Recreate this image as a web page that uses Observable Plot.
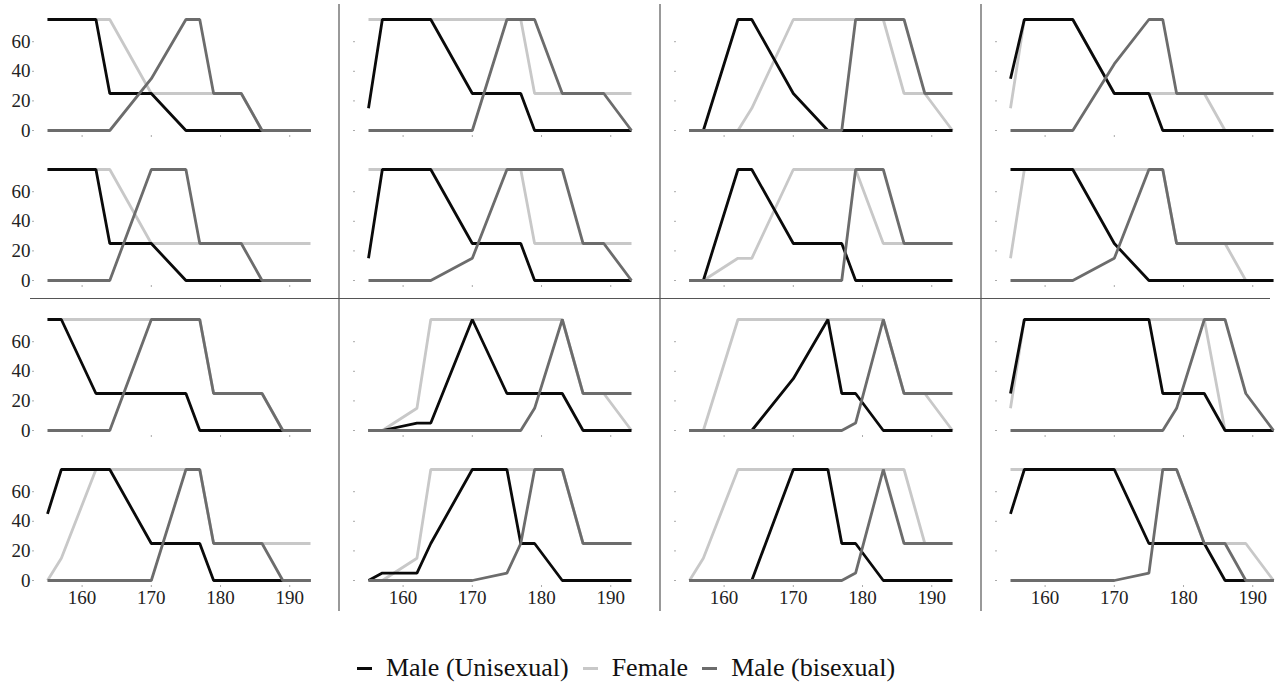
<!DOCTYPE html>
<html>
<head>
<meta charset="utf-8">
<script src="https://cdn.jsdelivr.net/npm/d3@7"></script>
<script src="https://cdn.jsdelivr.net/npm/@observablehq/plot@0.6"></script>
<style>
  html, body { margin: 0; padding: 0; background: #fff; }
  #chart svg { display: block; }
  #legend {
    display: flex; justify-content: center; align-items: center;
    font-family: 'Liberation Serif', 'Times New Roman', serif;
    font-size: 26px; line-height: 30px; color: #111;
    padding-top: 33px;
    margin-left: -24px;
  }
  #legend .item { display: flex; align-items: center; margin: 0 7px; }
  #legend .dash { display: inline-block; width: 15px; height: 3px; margin-right: 14px; }
</style>
</head>
<body>
<div id="chart"></div>
<div id="legend"></div>
<script>
// Heights (x positions of the samples)
const heights = [155, 157, 162, 164, 170, 175, 177, 179, 183, 186, 189, 193];
const xTicks = [160, 170, 180, 190];
const yTicks = [0, 20, 40, 60];
const seriesNames = ["Male (Unisexual)", "Female", "Male (bisexual)"];
const seriesColors = ["#0a0a0a", "#c8c8c8", "#6c6c6c"];

// 16 panels, row-major (row 1: col 1..4, row 2: col 1..4, ...)
const maleUnisexual = [
  [75,75,75,25,25,0,0,0,0,0,0,0],
  [15,75,75,75,25,25,25,0,0,0,0,0],
  [0,0,75,75,25,0,0,0,0,0,0,0],
  [35,75,75,75,25,25,0,0,0,0,0,0],
  [75,75,75,25,25,0,0,0,0,0,0,0],
  [15,75,75,75,25,25,25,0,0,0,0,0],
  [0,0,75,75,25,25,25,0,0,0,0,0],
  [75,75,75,75,25,0,0,0,0,0,0,0],
  [75,75,25,25,25,25,0,0,0,0,0,0],
  [0,0,5,5,75,25,25,25,25,0,0,0],
  [0,0,0,0,35,75,25,25,0,0,0,0],
  [25,75,75,75,75,75,25,25,25,0,0,0],
  [45,75,75,75,25,25,25,0,0,0,0,0],
  [0,5,5,25,75,75,25,25,0,0,0,0],
  [0,0,0,0,75,75,25,25,0,0,0,0],
  [45,75,75,75,75,25,25,25,25,0,0,0]
];
const female = [
  [75,75,75,75,25,25,25,25,25,0,0,0],
  [75,75,75,75,75,75,75,25,25,25,25,25],
  [0,0,0,15,75,75,75,75,75,25,25,0],
  [15,75,75,75,25,25,25,25,25,0,0,0],
  [75,75,75,75,25,25,25,25,25,25,25,25],
  [75,75,75,75,75,75,75,25,25,25,25,25],
  [0,0,15,15,75,75,75,75,25,25,25,25],
  [15,75,75,75,75,75,75,25,25,25,0,0],
  [75,75,75,75,75,75,75,25,25,25,0,0],
  [0,0,15,75,75,75,75,75,75,25,25,0],
  [0,0,75,75,75,75,75,75,75,25,25,0],
  [15,75,75,75,75,75,75,75,75,0,0,0],
  [0,15,75,75,75,75,75,25,25,25,25,25],
  [0,0,15,75,75,75,75,75,75,25,25,25],
  [0,15,75,75,75,75,75,75,75,75,25,25],
  [75,75,75,75,75,75,75,75,25,25,25,0]
];
const maleBisexual = [
  [0,0,0,0,35,75,75,25,25,0,0,0],
  [0,0,0,0,0,75,75,75,25,25,25,0],
  [0,0,0,0,0,0,0,75,75,75,25,25],
  [0,0,0,0,45,75,75,25,25,25,25,25],
  [0,0,0,0,75,75,25,25,25,0,0,0],
  [0,0,0,0,15,75,75,75,75,25,25,0],
  [0,0,0,0,0,0,0,75,75,25,25,25],
  [0,0,0,0,15,75,75,25,25,25,25,25],
  [0,0,0,0,75,75,75,25,25,25,0,0],
  [0,0,0,0,0,0,0,15,75,25,25,25],
  [0,0,0,0,0,0,0,5,75,25,25,25],
  [0,0,0,0,0,0,0,15,75,75,25,0],
  [0,0,0,0,0,75,75,25,25,25,0,0],
  [0,0,0,0,0,5,25,75,75,25,25,25],
  [0,0,0,0,0,0,0,5,75,25,25,25],
  [0,0,0,0,0,5,75,75,25,25,0,0]
];

const seriesValues = [maleUnisexual, female, maleBisexual];

function toRows(panels, series) {
  const out = [];
  panels.forEach((vals, p) => {
    vals.forEach((v, i) => {
      out.push({series, row: Math.floor(p / 4) + 1, col: (p % 4) + 1, x: heights[i], y: v});
    });
  });
  return out;
}
const data = seriesValues.map((s, k) => toRows(s, seriesNames[k]));

const lineOpts = (k) => ({x: "x", y: "y", fx: "col", fy: "row", stroke: seriesColors[k], strokeWidth: 2.8, strokeLinejoin: "miter", strokeLinecap: "butt"});

const chart = Plot.plot({
  width: 1276,
  height: 620,
  marginLeft: 46,
  marginRight: 2,
  marginTop: 18,
  marginBottom: 40,
  style: {fontFamily: "'Liberation Serif', 'Times New Roman', serif", background: "white", color: "#222"},
  x: {domain: [155, 193]},
  y: {domain: [0, 75]},
  fx: {domain: [1, 2, 3, 4], paddingInner: 0.18, paddingOuter: 0, axis: null},
  fy: {domain: [1, 2, 3, 4], paddingInner: 0.261, paddingOuter: 0, axis: null},
  marks: [
    Plot.axisY({ticks: yTicks, tickSize: 2, dx: -13, stroke: "#aaa", fill: "none", label: null, facetAnchor: null}),
    Plot.axisY({ticks: yTicks, tickSize: 3, tickPadding: 1, dx: -13, stroke: "none", fill: "#222", fontSize: 19, label: null}),
    Plot.axisX({ticks: xTicks, tickSize: 2, dy: 5, stroke: "#aaa", fill: "none", label: null, facetAnchor: null}),
    Plot.axisX({ticks: xTicks, tickSize: 2, tickPadding: 3, dy: 5, stroke: "none", fill: "#222", fontSize: 19, label: null}),
    Plot.line(data[1], lineOpts(1)),
    Plot.line(data[0], lineOpts(0)),
    Plot.line(data[2], lineOpts(2))
  ]
});

document.getElementById("chart").appendChild(chart);

// Separator lines between panel groups, placed from the facet scales
const fx = chart.scale("fx");
const fy = chart.scale("fy");
const svg = d3.select(chart);
const sep = svg.append("g").attr("stroke", "#555").attr("stroke-width", 1.2);
[1, 2, 3].forEach(c => {
  const xm = fx.apply(c) + fx.bandwidth + (fx.step - fx.bandwidth) / 2;
  sep.append("line").attr("x1", xm).attr("x2", xm).attr("y1", 4).attr("y2", 611);
});
{
  const ym = fy.apply(2) + fy.bandwidth + (fy.step - fy.bandwidth) / 2 - 1;
  sep.append("line").attr("x1", 30).attr("x2", 1270).attr("y1", ym).attr("y2", ym);
}

// Legend
const legend = d3.select("#legend");
seriesNames.forEach((name, k) => {
  const item = legend.append("div").attr("class", "item");
  item.append("span").attr("class", "dash").style("background", seriesColors[k]);
  item.append("span").text(name);
});
</script>
</body>
</html>
